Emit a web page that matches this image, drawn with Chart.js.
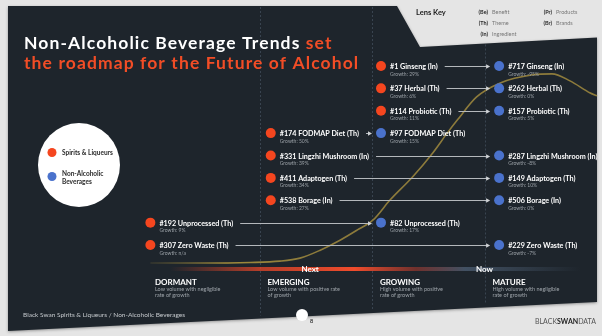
<!DOCTYPE html>
<html>
<head>
<meta charset="utf-8">
<script src="https://cdn.jsdelivr.net/npm/chart.js@4.4.0/dist/chart.umd.min.js"></script>
<style>
  html, body { margin: 0; padding: 0; background: #e5e5e5; }
  canvas { display: block; }
</style>
</head>
<body>
<canvas id="roadmapChart" width="602" height="336"></canvas>
<script>
// Trend rows, top to bottom
const trendNames = ['Ginseng (In)', 'Herbal (Th)', 'Probiotic (Th)', 'FODMAP Diet (Th)', 'Lingzhi Mushroom (In)',
                    'Adaptogen (Th)', 'Borage (In)', 'Unprocessed (Th)', 'Zero Waste (Th)'];
const trendRows = [1, 2, 3, 4, 5, 6, 7, 8, 9];

// Spirits & Liqueurs: rank, growth and position on the stage axis (0 = dormant ... 4 = end of mature)
const spiritsRank = [1, 37, 114, 174, 331, 411, 538, 192, 307];
const spiritsGrowth = ['29%', '6%', '11%', '50%', '39%', '34%', '27%', '9%', 'n/a'];
const spiritsStage = [2.08, 2.08, 2.08, 1.1, 1.1, 1.1, 1.1, 0.03, 0.03];

// Non-Alcoholic Beverages
const nonAlcRank = [717, 262, 157, 97, 287, 149, 506, 82, 229];
const nonAlcGrowth = ['-95%', '0%', '5%', '15%', '-8%', '10%', '0%', '17%', '-7%'];
const nonAlcStage = [3.13, 3.13, 3.13, 2.08, 3.13, 3.13, 3.13, 2.08, 3.13];

// Adoption curve (stage position vs. relative volume)
const curveStage = [0.03, 0.47, 0.92, 1.18, 1.36, 1.54, 1.72, 1.87, 2.01, 2.16, 2.36, 2.54, 2.67, 2.76, 2.93, 3.14, 3.43, 3.6, 3.76, 3.94, 4.0];
const curveVolume = [0, 0, 0.3, 1, 2.6, 6.8, 12.2, 17.5, 22.8, 33.3, 45.5, 58.2, 68.8, 75.7, 87.8, 95.2, 99.5, 100, 96.3, 89.9, 88.4];

// Stage columns
const stageNames = ['DORMANT', 'EMERGING', 'GROWING', 'MATURE'];
const stageNotes = [
  ['Low volume with negligible', 'rate of growth'],
  ['Low volume with positive rate', 'of growth'],
  ['High volume with positive', 'rate of growth'],
  ['High volume with negligible', 'rate of growth']
];
const timeMarkers = ['Next', 'Now'];
const timeMarkerStage = [1.45, 3.0];

const lensKeyLeft = [['(Be)', 'Benefit'], ['(Th)', 'Theme'], ['(In)', 'Ingredient']];
const lensKeyRight = [['(Pr)', 'Products'], ['(Br)', 'Brands']];

const RED = '#f5461f';
const BLUE = '#4a72cc';
const FONT = 'Lato, "Open Sans", sans-serif';

function font(size, weight) {
  return (weight || 'normal') + ' ' + size + 'px ' + FONT;
}

// panel edges
function panelTop(px) {
  return px <= 397 ? 6 : (px <= 420 ? 6 + (px - 397) * 41 / 23 : 47 - (px - 420) * 9.5 / 177);
}
function panelBottom(px) {
  return 331 - (px - 8) * 0.0492;
}

const backdropPlugin = {
  id: 'backdrop',
  beforeDraw(chart) {
    const ctx = chart.ctx;
    const xs = chart.scales.x;
    ctx.save();

    // dark slide panel with the cut corner for the lens key
    ctx.shadowColor = 'rgba(0,0,0,0.35)';
    ctx.shadowBlur = 3;
    ctx.shadowOffsetY = 1;
    ctx.fillStyle = '#1e252c';
    ctx.beginPath();
    ctx.moveTo(8, 6);
    ctx.lineTo(397, 6);
    ctx.lineTo(420, 47);
    ctx.lineTo(597, 37.5);
    ctx.lineTo(597, panelBottom(597));
    ctx.lineTo(8, panelBottom(8));
    ctx.closePath();
    ctx.fill();
    ctx.shadowColor = 'transparent';

    // dashed stage dividers
    ctx.strokeStyle = '#394450';
    ctx.lineWidth = 1;
    ctx.setLineDash([2, 2]);
    [1, 2, 3].forEach(v => {
      const px = Math.round(xs.getPixelForValue(v)) + 0.5;
      ctx.beginPath();
      ctx.moveTo(px, panelTop(px) + 1);
      ctx.lineTo(px, panelBottom(px) - 3);
      ctx.stroke();
    });
    ctx.setLineDash([]);

    // title
    ctx.textBaseline = 'alphabetic';
    ctx.textAlign = 'left';
    ctx.font = font(17.5, 'bold');
    ctx.letterSpacing = '1.1px';
    ctx.fillStyle = '#ffffff';
    const t1 = 'Non-Alcoholic Beverage Trends ';
    ctx.fillText(t1, 24, 48.5);
    ctx.fillStyle = '#f24d26';
    ctx.fillText('set', 24 + ctx.measureText(t1).width, 48.5);
    ctx.fillText('the roadmap for the Future of Alcohol', 24, 69);
    ctx.letterSpacing = '0px';

    // lens key
    ctx.textBaseline = 'middle';
    ctx.fillStyle = '#222222';
    ctx.font = font(7.5, 'bold');
    ctx.fillText('Lens Key', 416, 12.5);
    const keyRow = (items, x) => items.forEach((k, i) => {
      ctx.font = font(5.5, 'bold');
      ctx.fillStyle = '#2a2a2a';
      ctx.textAlign = 'right';
      ctx.fillText(k[0], x, 12 + i * 11);
      ctx.font = font(5.5);
      ctx.fillStyle = '#777777';
      ctx.textAlign = 'left';
      ctx.fillText(k[1], x + 4, 12 + i * 11);
    });
    keyRow(lensKeyLeft, 488);
    keyRow(lensKeyRight, 552);

    // legend bubble
    ctx.fillStyle = '#ffffff';
    ctx.beginPath();
    ctx.ellipse(79, 165, 41, 42, 0, 0, Math.PI * 2);
    ctx.fill();
    const legendY = [[153], [173.5, 182]];
    [0, 1].forEach(d => {
      const ds = chart.data.datasets[d];
      ctx.fillStyle = ds.backgroundColor;
      ctx.beginPath();
      ctx.arc(52, d === 0 ? 152.5 : 176.5, 4.5, 0, Math.PI * 2);
      ctx.fill();
      ctx.fillStyle = '#2a2a2a';
      ctx.font = font(6.5, 'bold');
      ctx.textAlign = 'left';
      const lines = d === 0 ? [ds.label] : ['Non-Alcoholic', 'Beverages'];
      lines.forEach((ln, i) => ctx.fillText(ln, 62, legendY[d][i]));
    });

    // stage names and notes
    stageNames.forEach((name, i) => {
      const px = xs.getPixelForValue(i) + 8;
      ctx.fillStyle = '#ffffff';
      ctx.font = font(8, 'bold');
      ctx.fillText(name, px, 282);
      ctx.fillStyle = '#9ea4aa';
      ctx.font = font(5.5);
      stageNotes[i].forEach((ln, j) => ctx.fillText(ln, px, 289.5 + j * 6));
    });

    // footer
    ctx.fillStyle = '#c4c8cc';
    ctx.font = font(6.5);
    ctx.fillText('Black Swan Spirits & Liqueurs / Non-Alcoholic Beverages', 23, 315);
    ctx.fillStyle = '#ffffff';
    ctx.beginPath();
    ctx.arc(302, 315, 6, 0, Math.PI * 2);
    ctx.fill();
    ctx.fillStyle = '#333333';
    ctx.font = font(5.5, 'bold');
    ctx.fillText('8', 310, 321);
    let bx = 535;
    [['BLACK', 'normal', '#555555'], ['SWAN', 'bold', '#222222'], ['DATA', 'normal', '#555555']].forEach(p => {
      ctx.font = font(7, p[1]);
      ctx.fillStyle = p[2];
      ctx.fillText(p[0], bx, 322);
      bx += ctx.measureText(p[0]).width;
    });

    // Next / Now timeline bar
    const barY = 269;
    const g = ctx.createLinearGradient(170, 0, 580, 0);
    g.addColorStop(0, 'rgba(232,70,40,0)');
    g.addColorStop(0.22, 'rgba(232,70,40,0.75)');
    g.addColorStop(0.45, 'rgba(240,76,44,1)');
    g.addColorStop(0.6, 'rgba(120,50,45,0.9)');
    g.addColorStop(0.72, 'rgba(70,86,105,0.9)');
    g.addColorStop(1, 'rgba(70,86,105,0)');
    ctx.fillStyle = g;
    ctx.fillRect(170, barY - 2, 410, 4);
    ctx.fillStyle = '#ffffff';
    ctx.font = font(8, 'bold');
    ctx.textAlign = 'center';
    timeMarkers.forEach((m, i) => ctx.fillText(m, xs.getPixelForValue(timeMarkerStage[i]), barY));

    ctx.restore();
  }
};

const labelPlugin = {
  id: 'trendLabels',
  afterDatasetsDraw(chart) {
    const ctx = chart.ctx;
    const reds = chart.getDatasetMeta(0).data;
    const blues = chart.getDatasetMeta(1).data;
    ctx.save();
    ctx.textBaseline = 'middle';
    ctx.textAlign = 'left';

    const drawLabel = (pt, rank, name, growth) => {
      ctx.fillStyle = '#ffffff';
      ctx.font = font(7.2, 'bold');
      const txt = '#' + rank + ' ' + name;
      ctx.fillText(txt, pt.x + 9, pt.y + 0.8);
      const w = ctx.measureText(txt).width;
      ctx.fillStyle = '#9aa0a6';
      ctx.font = font(5);
      ctx.fillText('Growth: ' + growth, pt.x + 9, pt.y + 8);
      return pt.x + 9 + w;
    };

    trendNames.forEach((name, i) => {
      const r = reds[i], b = blues[i];
      const end = drawLabel(r, spiritsRank[i], name, spiritsGrowth[i]);
      drawLabel(b, nonAlcRank[i], name, nonAlcGrowth[i]);

      // arrow from the spirits position to the non-alcoholic position
      const y = Math.round(r.y) + 0.5;
      const tip = b.x - 9;
      ctx.strokeStyle = '#b4b8bc';
      ctx.fillStyle = '#d0d3d6';
      ctx.lineWidth = 1;
      ctx.beginPath();
      ctx.moveTo(end + 7, y);
      ctx.lineTo(tip - 3, y);
      ctx.stroke();
      ctx.beginPath();
      ctx.moveTo(tip, y);
      ctx.lineTo(tip - 4, y - 2.3);
      ctx.lineTo(tip - 4, y + 2.3);
      ctx.closePath();
      ctx.fill();
    });
    ctx.restore();
  }
};

// gold stroke that fades in over the dormant stage
function curveStroke(c) {
  const chart = c.chart;
  const area = chart.chartArea;
  if (!area || !isFinite(area.left) || !isFinite(area.right)) return '#8d7b3b';
  const w = area.right - area.left;
  const g = chart.ctx.createLinearGradient(area.left, 0, area.left + w * 0.35, 0);
  g.addColorStop(0, 'rgba(150,130,55,0.15)');
  g.addColorStop(0.5, 'rgba(175,150,60,0.9)');
  g.addColorStop(1, 'rgba(141,123,59,1)');
  return g;
}

new Chart(document.getElementById('roadmapChart'), {
  type: 'scatter',
  data: {
    datasets: [
      {
        label: 'Spirits & Liqueurs',
        data: trendRows.map((r, i) => ({ x: spiritsStage[i], y: r })),
        backgroundColor: RED,
        borderWidth: 0,
        pointRadius: 5,
        order: 0
      },
      {
        label: 'Non-Alcoholic Beverages',
        data: trendRows.map((r, i) => ({ x: nonAlcStage[i], y: r })),
        backgroundColor: BLUE,
        borderWidth: 0,
        pointRadius: 5,
        order: 0
      },
      {
        label: 'Adoption curve',
        type: 'line',
        yAxisID: 'vol',
        data: curveStage.map((s, i) => ({ x: s, y: curveVolume[i] })),
        borderColor: curveStroke,
        borderWidth: 1.6,
        pointRadius: 0,
        fill: false,
        cubicInterpolationMode: 'monotone',
        order: 2
      }
    ]
  },
  options: {
    responsive: false,
    animation: false,
    clip: false,
    layout: { padding: { left: 147, right: 5, top: 43.6, bottom: 68.6 } },
    plugins: { legend: { display: false }, tooltip: { enabled: false } },
    scales: {
      x: { type: 'linear', min: 0, max: 4, display: false },
      y: { type: 'linear', min: 0, max: 10, reverse: true, display: false },
      vol: { type: 'linear', min: -2.3, max: 116, display: false }
    }
  },
  plugins: [backdropPlugin, labelPlugin]
});
</script>
</body>
</html>
